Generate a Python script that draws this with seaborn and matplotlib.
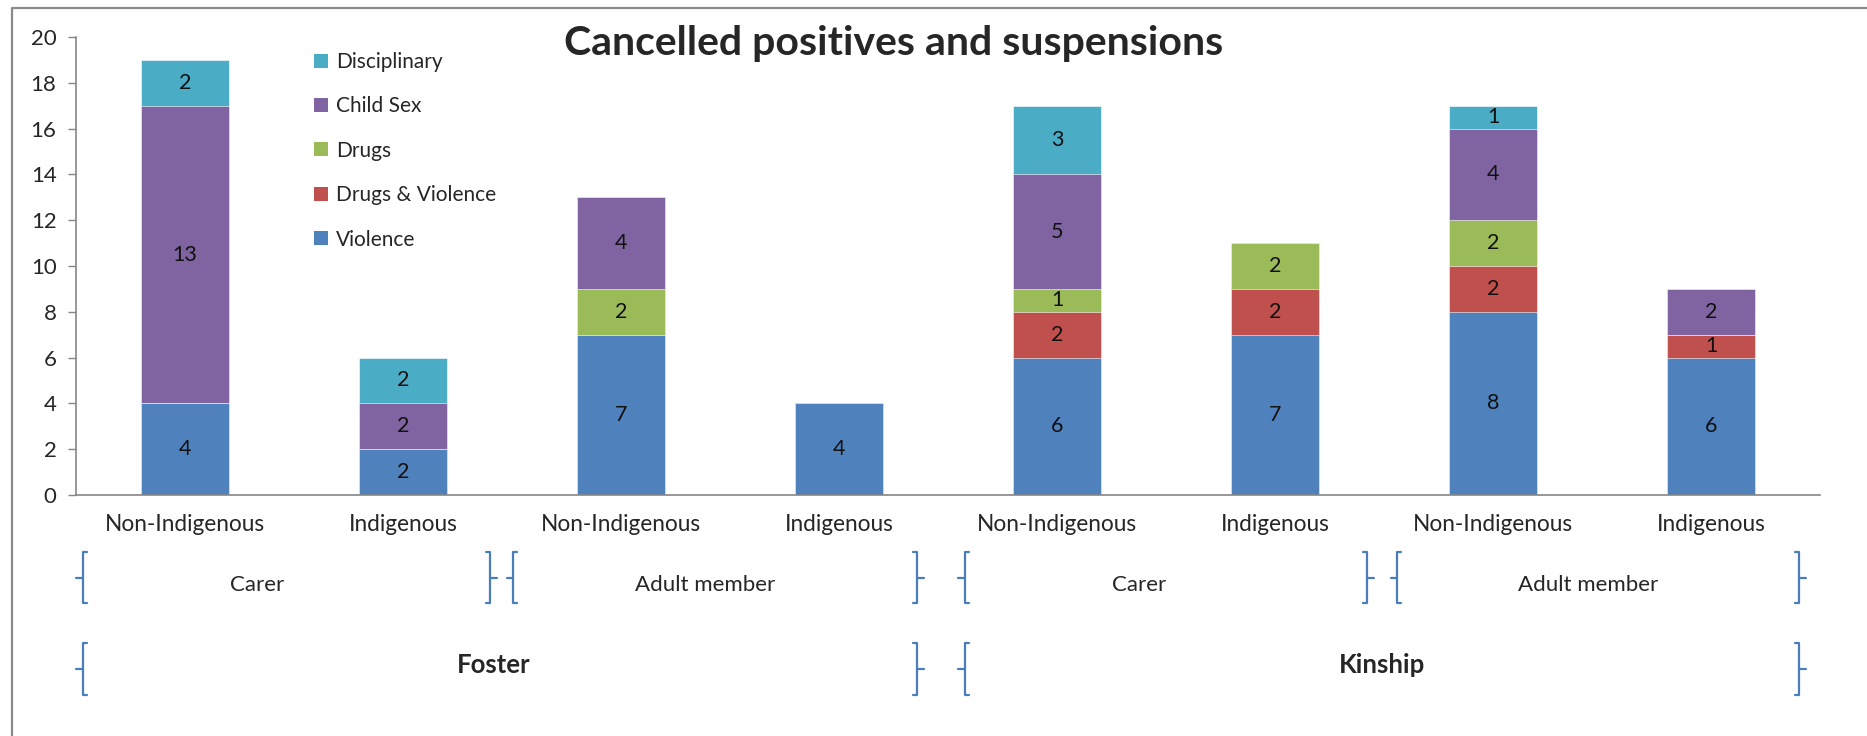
import numpy as np
import pandas as pd
import matplotlib
matplotlib.use("Agg")
import matplotlib.pyplot as plt
import matplotlib.transforms as mtransforms
from matplotlib.patches import Patch
from matplotlib.lines import Line2D
import seaborn as sns

# ---------------- data ----------------
category_keys = ["F-C-N", "F-C-I", "F-A-N", "F-A-I", "K-C-N", "K-C-I", "K-A-N", "K-A-I"]
category_labels = ["Non-Indigenous", "Indigenous", "Non-Indigenous", "Indigenous",
                   "Non-Indigenous", "Indigenous", "Non-Indigenous", "Indigenous"]
series_names = ["Violence", "Drugs & Violence", "Drugs", "Child Sex", "Disciplinary"]
violence = [4, 2, 7, 4, 6, 7, 8, 6]
drugs_violence = [0, 0, 0, 0, 2, 2, 2, 1]
drugs = [0, 0, 2, 0, 1, 2, 2, 0]
child_sex = [13, 2, 4, 0, 5, 0, 4, 2]
disciplinary = [2, 2, 0, 0, 3, 0, 1, 0]
role_labels = ["Carer", "Adult member", "Carer", "Adult member"]
type_labels = ["Foster", "Kinship"]
title = "Cancelled positives and suspensions"

series_values = [violence, drugs_violence, drugs, child_sex, disciplinary]
colors = ["#4F81BD", "#C0504D", "#9BBB59", "#8064A2", "#4BACC6"]

# ---------------- style ----------------
sns.set_style("white")
plt.rcParams["font.family"] = ["Lato", "DejaVu Sans"]

W, H = 1867, 736
fig = plt.figure(figsize=(W / 100, H / 100), dpi=100)
ax = fig.add_axes([76 / W, 1 - 495 / H, 1744 / W, 458 / H])

# build long frame with cumulative heights
rows = []
cum = np.zeros(len(category_keys))
for name, vals in zip(series_names, series_values):
    vals = np.array(vals, dtype=float)
    for k, b, v in zip(category_keys, cum, vals):
        rows.append({"key": k, "series": name, "bottom": b, "value": v, "top": b + v})
    cum = cum + vals
df = pd.DataFrame(rows)

# draw tallest cumulative first so each lower series overlays it
for name, col in reversed(list(zip(series_names, colors))):
    sub = df[df["series"] == name]
    sns.barplot(data=sub, x="key", y="top", order=category_keys, color=col,
                width=0.4, ax=ax, saturation=1, edgecolor="white", linewidth=0.4)

# value labels
for _, r in df.iterrows():
    if r["value"] > 0:
        ax.text(category_keys.index(r["key"]), r["bottom"] + r["value"] / 2, f"{int(r['value'])}",
                ha="center", va="center", fontsize=15.5, color="#111111")

# axes
ax.set_ylim(0, 20)
ax.set_xlim(-0.5, len(category_keys) - 0.5)
ax.set_yticks(range(0, 21, 2))
ax.set_xlabel("")
ax.set_ylabel("")
ax.set_xticks(range(len(category_keys)))
ax.set_xticklabels(category_labels, fontsize=16.3)
ax.set_xticks(np.arange(-0.5, len(category_keys)), minor=True)
ax.tick_params(axis="x", which="major", length=0, pad=14)
ax.tick_params(axis="x", which="minor", length=7, width=1, color="#868686", direction="out")
ax.tick_params(axis="y", length=6, width=1, color="#868686", direction="out", pad=8, labelsize=16, left=True)
for s in ["top", "right"]:
    ax.spines[s].set_visible(False)
for s in ["left", "bottom"]:
    ax.spines[s].set_color("#868686")
    ax.spines[s].set_linewidth(1.2)

# legend
handles = [Patch(facecolor=c, edgecolor="none", label=n)
           for n, c in reversed(list(zip(series_names, colors)))]
fig.legend(handles=handles, loc="upper left", bbox_to_anchor=(314 / W, 1 - 52 / H),
           frameon=False, fontsize=15, labelspacing=1.17, handlelength=0.65,
           handleheight=0.65, handletextpad=0.4, borderaxespad=0, borderpad=0)

# title
fig.text(894 / W, 1 - 44 / H, title, ha="center", va="center", fontsize=29.5, fontweight="bold")

# multi-level brackets (layout)
trans = mtransforms.blended_transform_factory(ax.transData, ax.transAxes)
bcol = "#4A7EBB"
serif = 0.02
tick = 0.03


def bracket(x, y0, y1, side):
    ym = (y0 + y1) / 2
    d = 1 if side == "left" else -1
    ax.add_line(Line2D([x + d * serif, x, x, x + d * serif], [y0, y0, y1, y1],
                       transform=trans, clip_on=False, color=bcol, lw=1.6))
    ax.add_line(Line2D([x, x - d * tick], [ym, ym], transform=trans,
                       clip_on=False, color=bcol, lw=1.6))


lvl1 = [(-0.468, 1.399), (1.505, 3.360), (3.578, 5.422), (5.560, 7.404)]
lvl1_lab_x = [0.33, 2.385, 4.376, 6.436]
lvl2 = [(-0.468, 3.360), (3.578, 7.404)]
lvl2_lab_x = [1.417, 5.49]
y1a, y1b = -0.1245, -0.2358
y2a, y2b = -0.3231, -0.4367
for (a, b), lx, lab in zip(lvl1, lvl1_lab_x, role_labels):
    bracket(a, y1a, y1b, "left")
    bracket(b, y1a, y1b, "right")
    ax.text(lx, -0.1965, lab, transform=trans, ha="center", va="center", fontsize=16)
for (a, b), lx, lab in zip(lvl2, lvl2_lab_x, type_labels):
    bracket(a, y2a, y2b, "left")
    bracket(b, y2a, y2b, "right")
    ax.text(lx, -0.372, lab, transform=trans, ha="center", va="center", fontsize=18.5,
            fontweight="bold")

# outer frame (top and left only, as cropped in original)
fig.add_artist(Line2D([12 / W, 12 / W, 1.0], [0.0, 1 - 8 / H, 1 - 8 / H],
                      transform=fig.transFigure, color="#8a8a8a", lw=1.6))

fig.savefig("out.png", dpi=100)
